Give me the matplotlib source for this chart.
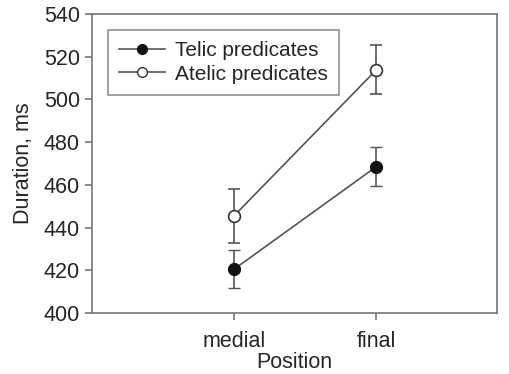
import matplotlib
matplotlib.use("Agg")
import matplotlib.pyplot as plt
from matplotlib.lines import Line2D

positions = ["medial", "final"]
x = [1, 2]

telic = [420.5, 468.5]
telic_err = [9, 9]
atelic = [445.5, 513.8]
atelic_err = [12.5, 11.5]

plt.rcParams['font.family'] = ['Liberation Sans', 'DejaVu Sans']

fig = plt.figure(figsize=(5.1, 3.74), dpi=100)
ax = fig.add_axes([0.180, 0.163, 0.795, 0.800])

grey = "#555555"
txt = "#262626"
fs = 15.5

ax.errorbar(x, telic, yerr=telic_err, color=grey, lw=1.2, capsize=4, elinewidth=1.2,
            marker="o", ms=8.5, mfc="#111111", mec="#111111", zorder=3)
ax.errorbar(x, atelic, yerr=atelic_err, color=grey, lw=1.2, capsize=4, elinewidth=1.2,
            marker="o", ms=8.5, mfc="white", mec="#333333", mew=1.2, zorder=3)

ax.set_xlim(0, 2.85)
ax.set_ylim(400, 540)
ax.set_yticks(range(400, 541, 20))
ax.set_xticks(x)
ax.set_xticklabels(positions)

for s in ax.spines.values():
    s.set_color("#777777")
    s.set_linewidth(1.2)
ax.tick_params(direction="out", color="#777777", length=5, width=1.2,
               labelsize=fs, labelcolor=txt)
ax.tick_params(axis="x", pad=8)

ax.set_xlabel("Position", fontsize=fs, color=txt, labelpad=0)
ax.set_ylabel("Duration, ms", fontsize=fs, color=txt, labelpad=7)

# legend handles without error bars
h1 = Line2D([], [], color=grey, lw=1.2, marker="o", ms=7, mfc="#111111", mec="#111111")
h2 = Line2D([], [], color=grey, lw=1.2, marker="o", ms=7, mfc="white", mec="#333333")
leg = ax.legend([h1, h2], ["Telic predicates", "Atelic predicates"], loc="upper left",
                bbox_to_anchor=(0.04, 0.946), fontsize=15, frameon=True, fancybox=False,
                borderpad=0.55, handlelength=2.2, handletextpad=0.45, labelspacing=0.2,
                borderaxespad=0)
leg.get_frame().set_edgecolor("#777777")
leg.get_frame().set_linewidth(1.2)
for t in leg.get_texts():
    t.set_color(txt)

fig.savefig("out.png", dpi=100)
